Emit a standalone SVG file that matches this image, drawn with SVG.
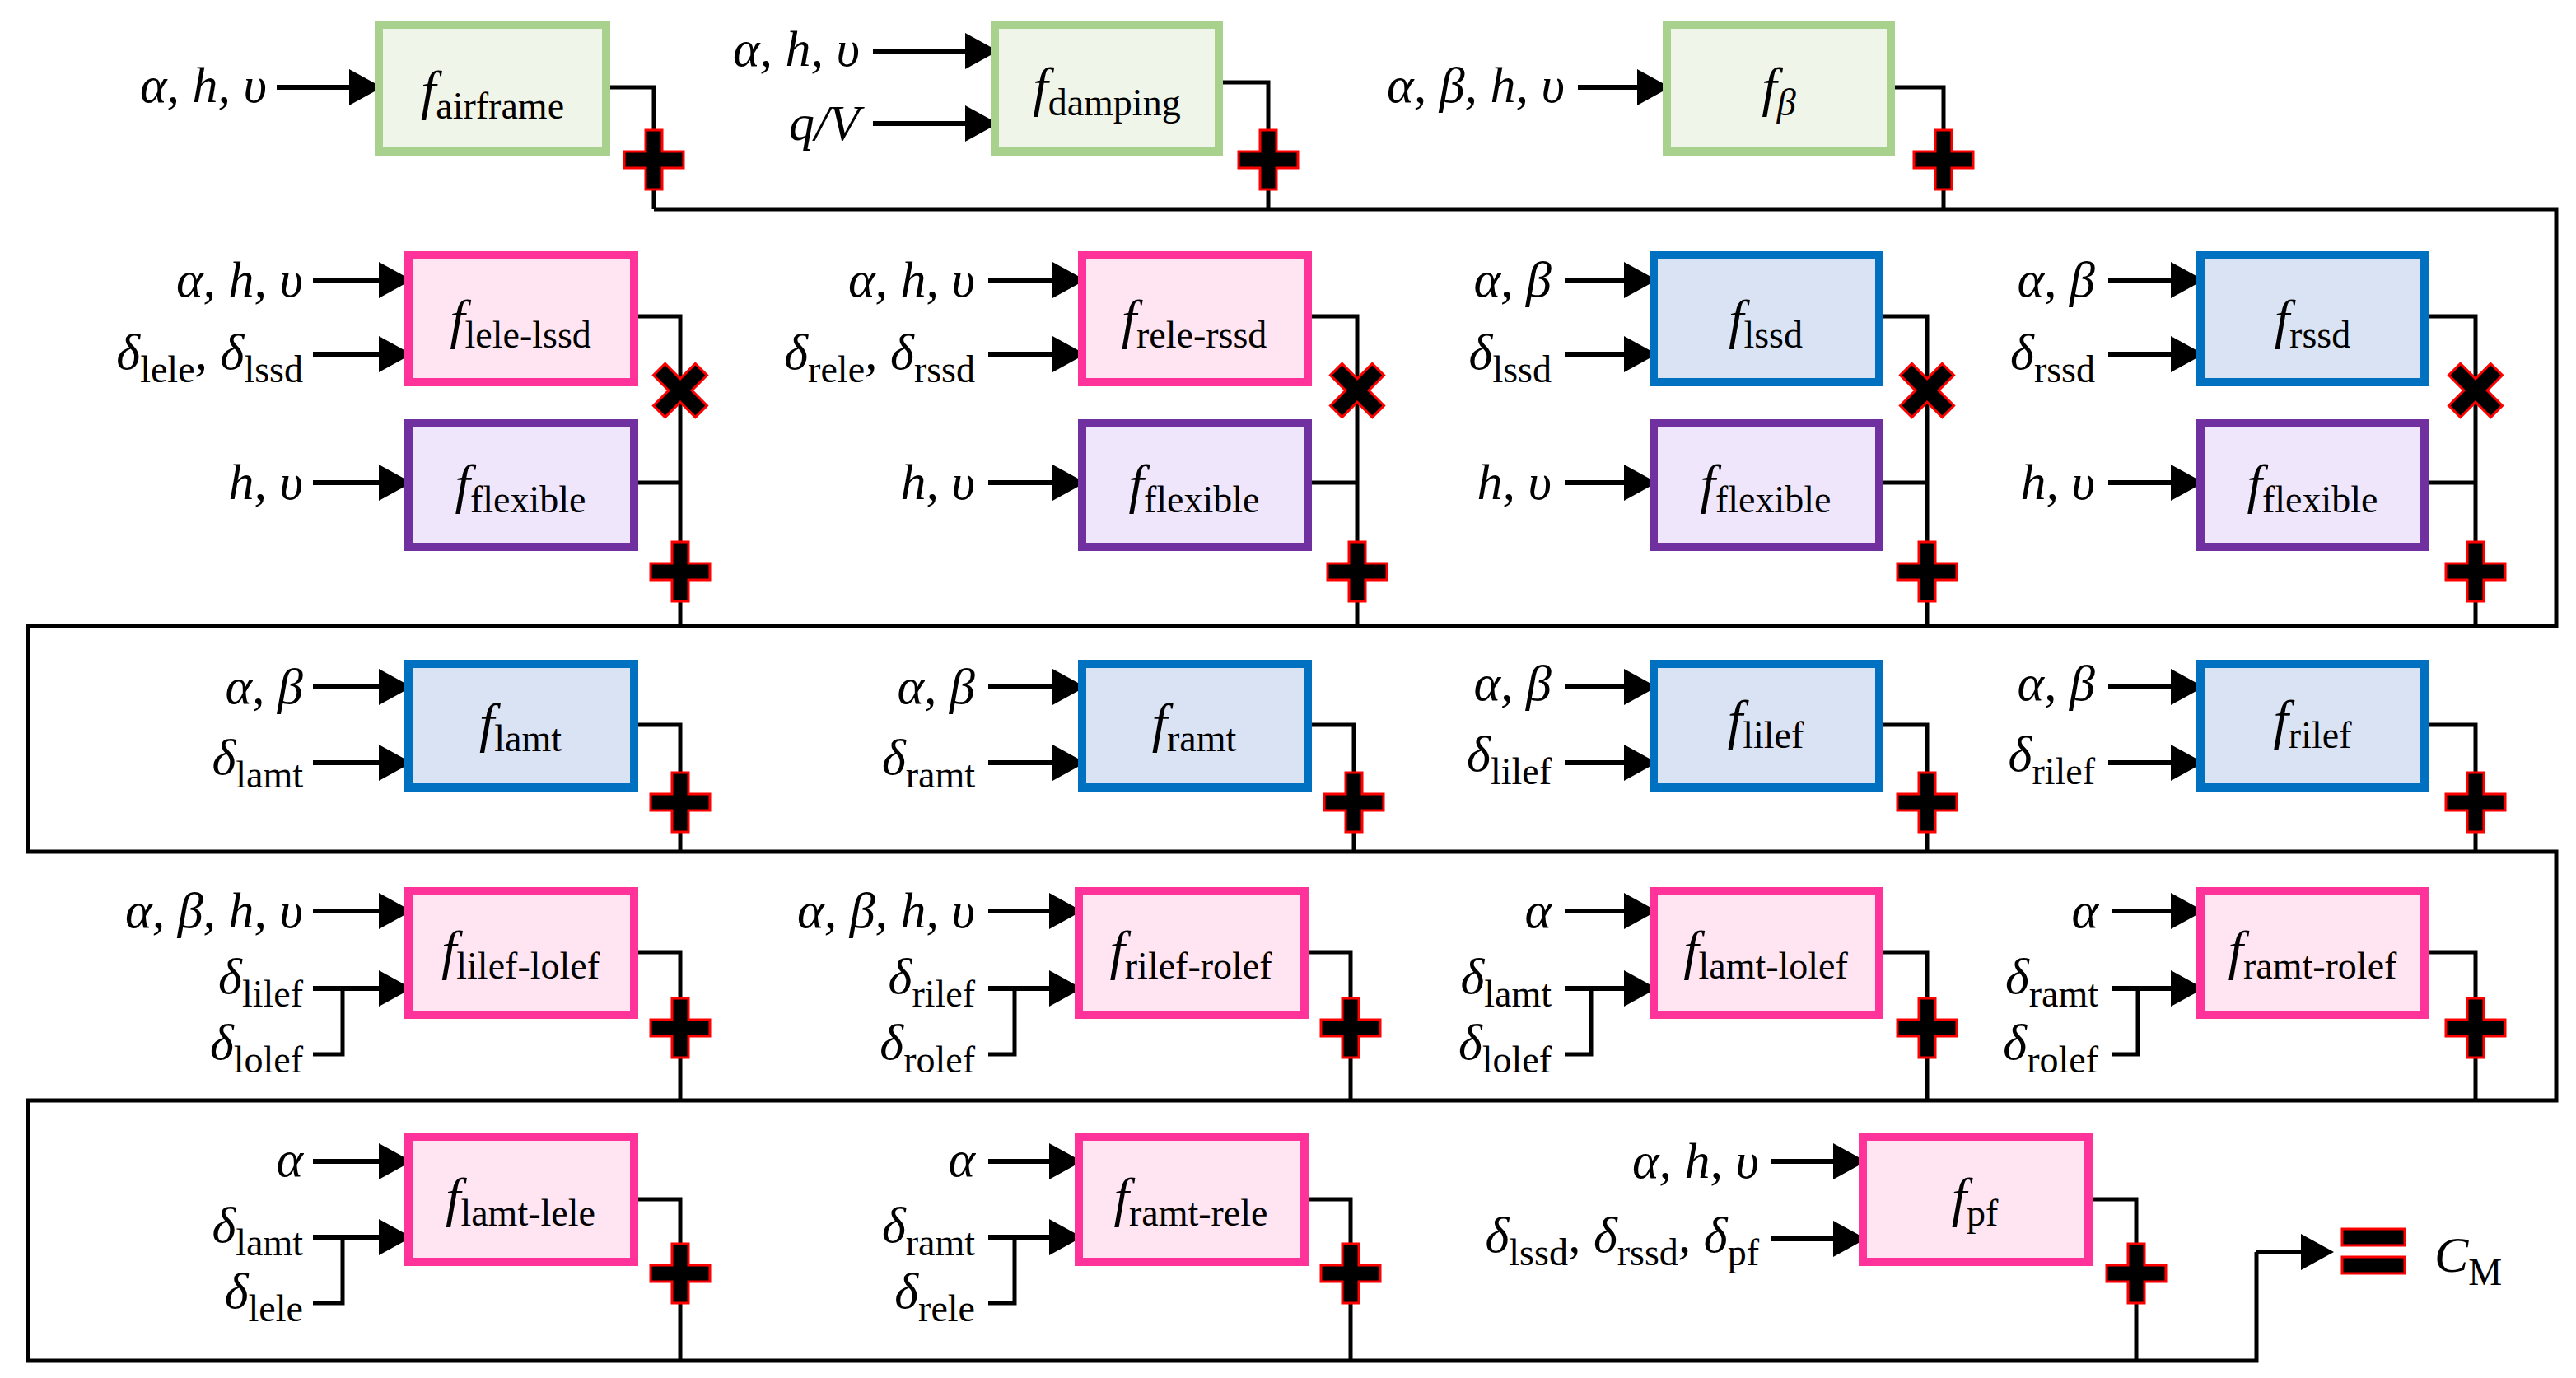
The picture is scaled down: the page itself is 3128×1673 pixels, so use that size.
<svg xmlns="http://www.w3.org/2000/svg" width="3128" height="1673" viewBox="0 0 3128 1673">
<style>
.g{fill:#F0F5EA;stroke:#A9D18E;stroke-width:5}
.p{fill:#FFE5F2;stroke:#FF3399;stroke-width:5}
.v{fill:#EFE6FC;stroke:#7030A0;stroke-width:5}
.b{fill:#DAE3F3;stroke:#0070C0;stroke-width:5}
.w{fill:none;stroke:#000;stroke-width:2.5}
.a{fill:none;stroke:#000;stroke-width:3;marker-end:url(#ar)}
text{font-family:"Liberation Serif","Times New Roman",serif;font-size:31px;fill:#000}
.l{text-anchor:end;font-style:italic}
.c{text-anchor:middle;font-style:italic;font-size:33px}
.s{font-style:normal;font-size:23px}
</style>
<defs>
<marker id="ar" markerUnits="userSpaceOnUse" markerWidth="20" markerHeight="22" refX="18" refY="11" orient="auto"><path d="M0,0 L20,11 L0,22 z" fill="#000"/></marker>
<path id="plus" d="M-5,-18 H5 V-5 H18 V5 H5 V18 H-5 V5 H-18 V-5 H-5 z" fill="#000" stroke="#F00" stroke-width="1.5"/>
<use id="times" href="#plus" transform="rotate(45)"/>
</defs>
<rect width="3128" height="1673" fill="#fff"/>
<g transform="scale(2)">
<g id="connectors">
<path class="a" d="M168,53 H230"/>
<path class="a" d="M530,31 H604"/><path class="a" d="M530,75 H604"/>
<path class="a" d="M958,53 H1012"/>
<path class="w" d="M368,53 H397 V127"/><path class="w" d="M740,50 H770 V127"/><path class="w" d="M1148,53 H1180 V127"/>
<path class="w" d="M397,127 H1552 V380 H17 V517 H1552 V668 H17 V826 H1370 V760"/>
<path class="a" d="M1370,760 H1415"/>
<!-- row2 -->
<path class="a" d="M190,170 H248"/><path class="a" d="M190,215 H248"/><path class="a" d="M190,293 H248"/>
<path class="w" d="M385,192 H413 V380 M385,293 H413"/>
<path class="a" d="M600,170 H657"/><path class="a" d="M600,215 H657"/><path class="a" d="M600,293 H657"/>
<path class="w" d="M794,192 H824 V380 M794,293 H824"/>
<path class="a" d="M950,170 H1004"/><path class="a" d="M950,215 H1004"/><path class="a" d="M950,293 H1004"/>
<path class="w" d="M1141,192 H1170 V380 M1141,293 H1170"/>
<path class="a" d="M1280,170 H1336"/><path class="a" d="M1280,215 H1336"/><path class="a" d="M1280,293 H1336"/>
<path class="w" d="M1472,192 H1503 V380 M1472,293 H1503"/>
<!-- row3 -->
<path class="a" d="M190,417 H248"/><path class="a" d="M190,463 H248"/><path class="w" d="M385,440 H413 V517"/>
<path class="a" d="M600,417 H657"/><path class="a" d="M600,463 H657"/><path class="w" d="M794,440 H822 V517"/>
<path class="a" d="M950,417 H1004"/><path class="a" d="M950,463 H1004"/><path class="w" d="M1141,440 H1170 V517"/>
<path class="a" d="M1280,417 H1336"/><path class="a" d="M1280,463 H1336"/><path class="w" d="M1472,440 H1503 V517"/>
<!-- row4 -->
<path class="a" d="M190,553 H248"/><path class="a" d="M190,600 H248"/><path class="w" d="M190,640 H208 V600"/><path class="w" d="M385,578 H413 V668"/>
<path class="a" d="M600,553 H655"/><path class="a" d="M600,600 H655"/><path class="w" d="M600,640 H616 V600"/><path class="w" d="M792,578 H820 V668"/>
<path class="a" d="M950,553 H1004"/><path class="a" d="M950,600 H1004"/><path class="w" d="M950,640 H966 V600"/><path class="w" d="M1141,578 H1170 V668"/>
<path class="a" d="M1282,553 H1336"/><path class="a" d="M1282,600 H1336"/><path class="w" d="M1282,640 H1298 V600"/><path class="w" d="M1472,578 H1503 V668"/>
<!-- row5 -->
<path class="a" d="M190,705 H248"/><path class="a" d="M190,751 H248"/><path class="w" d="M190,791 H208 V751"/><path class="w" d="M385,728 H413 V826"/>
<path class="a" d="M600,705 H655"/><path class="a" d="M600,751 H655"/><path class="w" d="M600,791 H616 V751"/><path class="w" d="M792,728 H820 V826"/>
<path class="a" d="M1075,705 H1131"/><path class="a" d="M1075,752 H1131"/><path class="w" d="M1268,728 H1297 V826"/>
<!-- operators -->
<use href="#plus" x="397" y="97"/><use href="#plus" x="770" y="97"/><use href="#plus" x="1180" y="97"/>
<use href="#times" transform="translate(413,237)"/><use href="#times" transform="translate(824,237)"/><use href="#times" transform="translate(1170,237)"/><use href="#times" transform="translate(1503,237)"/>
<use href="#plus" x="413" y="347"/><use href="#plus" x="824" y="347"/><use href="#plus" x="1170" y="347"/><use href="#plus" x="1503" y="347"/>
<use href="#plus" x="413" y="487"/><use href="#plus" x="822" y="487"/><use href="#plus" x="1170" y="487"/><use href="#plus" x="1503" y="487"/>
<use href="#plus" x="413" y="624"/><use href="#plus" x="820" y="624"/><use href="#plus" x="1170" y="624"/><use href="#plus" x="1503" y="624"/>
<use href="#plus" x="413" y="773"/><use href="#plus" x="820" y="773"/><use href="#plus" x="1297" y="773"/>
<rect x="1422" y="746" width="38" height="10" fill="#000" stroke="#F00" stroke-width="1.5"/>
<rect x="1422" y="763" width="38" height="10" fill="#000" stroke="#F00" stroke-width="1.5"/>
</g>
<!-- row1 nodes -->
<g id="n-airframe"><rect class="g" x="230" y="15" width="138" height="77"/><text class="c" x="299" y="66">f<tspan class="s" dy="6">airframe</tspan></text></g>
<g id="n-damping"><rect class="g" x="604" y="15" width="136" height="77"/><text class="c" x="672" y="64">f<tspan class="s" dy="6">damping</tspan></text></g>
<g id="n-beta"><rect class="g" x="1012" y="15" width="136" height="77"/><text class="c" x="1080" y="64">f<tspan dy="6" font-size="23">β</tspan></text></g>
<g id="labels">
<text class="l" x="162" y="62">α, h, υ</text>
<text class="l" x="522" y="40">α, h, υ</text>
<text class="l" x="522" y="85">q/V</text>
<text class="l" x="950" y="62">α, β, h, υ</text>
<text class="l" x="184" y="180">α, h, υ</text><text class="l" x="184" y="224">δ<tspan class="s" dy="8">lele</tspan><tspan dy="-8">, δ</tspan><tspan class="s" dy="8">lssd</tspan></text><text class="l" x="184" y="303">h, υ</text>
<text class="l" x="592" y="180">α, h, υ</text><text class="l" x="592" y="224">δ<tspan class="s" dy="8">rele</tspan><tspan dy="-8">, δ</tspan><tspan class="s" dy="8">rssd</tspan></text><text class="l" x="592" y="303">h, υ</text>
<text class="l" x="942" y="180">α, β</text><text class="l" x="942" y="224">δ<tspan class="s" dy="8">lssd</tspan></text><text class="l" x="942" y="303">h, υ</text>
<text class="l" x="1272" y="180">α, β</text><text class="l" x="1272" y="224">δ<tspan class="s" dy="8">rssd</tspan></text><text class="l" x="1272" y="303">h, υ</text>
<text class="l" x="184" y="427">α, β</text><text class="l" x="184" y="470">δ<tspan class="s" dy="8">lamt</tspan></text>
<text class="l" x="592" y="427">α, β</text><text class="l" x="592" y="470">δ<tspan class="s" dy="8">ramt</tspan></text>
<text class="l" x="942" y="425">α, β</text><text class="l" x="942" y="468">δ<tspan class="s" dy="8">lilef</tspan></text>
<text class="l" x="1272" y="425">α, β</text><text class="l" x="1272" y="468">δ<tspan class="s" dy="8">rilef</tspan></text>
<text class="l" x="184" y="563">α, β, h, υ</text><text class="l" x="184" y="603">δ<tspan class="s" dy="8">lilef</tspan></text><text class="l" x="184" y="643">δ<tspan class="s" dy="8">lolef</tspan></text>
<text class="l" x="592" y="563">α, β, h, υ</text><text class="l" x="592" y="603">δ<tspan class="s" dy="8">rilef</tspan></text><text class="l" x="592" y="643">δ<tspan class="s" dy="8">rolef</tspan></text>
<text class="l" x="942" y="563">α</text><text class="l" x="942" y="603">δ<tspan class="s" dy="8">lamt</tspan></text><text class="l" x="942" y="643">δ<tspan class="s" dy="8">lolef</tspan></text>
<text class="l" x="1274" y="563">α</text><text class="l" x="1274" y="603">δ<tspan class="s" dy="8">ramt</tspan></text><text class="l" x="1274" y="643">δ<tspan class="s" dy="8">rolef</tspan></text>
<text class="l" x="184" y="714">α</text><text class="l" x="184" y="754">δ<tspan class="s" dy="8">lamt</tspan></text><text class="l" x="184" y="794">δ<tspan class="s" dy="8">lele</tspan></text>
<text class="l" x="592" y="714">α</text><text class="l" x="592" y="754">δ<tspan class="s" dy="8">ramt</tspan></text><text class="l" x="592" y="794">δ<tspan class="s" dy="8">rele</tspan></text>
<text class="l" x="1068" y="715">α, h, υ</text><text class="l" x="1068" y="760">δ<tspan class="s" dy="8">lssd</tspan><tspan dy="-8">, δ</tspan><tspan class="s" dy="8">rssd</tspan><tspan dy="-8">, δ</tspan><tspan class="s" dy="8">pf</tspan></text>
<text x="1478" y="772" font-style="italic" font-size="34">C<tspan class="s" font-style="italic" dy="8">M</tspan></text>
</g>
<!-- row2 -->
<g id="n-lele-lssd"><rect class="p" x="248" y="155" width="137" height="77"/><text class="c" x="316" y="205">f<tspan class="s" dy="6">lele-lssd</tspan></text></g>
<g id="n-flex1"><rect class="v" x="248" y="257" width="137" height="75"/><text class="c" x="316" y="305">f<tspan class="s" dy="6">flexible</tspan></text></g>
<g id="n-rele-rssd"><rect class="p" x="657" y="155" width="137" height="77"/><text class="c" x="725" y="205">f<tspan class="s" dy="6">rele-rssd</tspan></text></g>
<g id="n-flex2"><rect class="v" x="657" y="257" width="137" height="75"/><text class="c" x="725" y="305">f<tspan class="s" dy="6">flexible</tspan></text></g>
<g id="n-lssd"><rect class="b" x="1004" y="155" width="137" height="77"/><text class="c" x="1072" y="205">f<tspan class="s" dy="6">lssd</tspan></text></g>
<g id="n-flex3"><rect class="v" x="1004" y="257" width="137" height="75"/><text class="c" x="1072" y="305">f<tspan class="s" dy="6">flexible</tspan></text></g>
<g id="n-rssd"><rect class="b" x="1336" y="155" width="136" height="77"/><text class="c" x="1404" y="205">f<tspan class="s" dy="6">rssd</tspan></text></g>
<g id="n-flex4"><rect class="v" x="1336" y="257" width="136" height="75"/><text class="c" x="1404" y="305">f<tspan class="s" dy="6">flexible</tspan></text></g>
<!-- row3 -->
<g id="n-lamt"><rect class="b" x="248" y="403" width="137" height="75"/><text class="c" x="316" y="450">f<tspan class="s" dy="6">lamt</tspan></text></g>
<g id="n-ramt"><rect class="b" x="657" y="403" width="137" height="75"/><text class="c" x="725" y="450">f<tspan class="s" dy="6">ramt</tspan></text></g>
<g id="n-lilef"><rect class="b" x="1004" y="403" width="137" height="75"/><text class="c" x="1072" y="448">f<tspan class="s" dy="6">lilef</tspan></text></g>
<g id="n-rilef"><rect class="b" x="1336" y="403" width="136" height="75"/><text class="c" x="1404" y="448">f<tspan class="s" dy="6">rilef</tspan></text></g>
<!-- row4 -->
<g id="n-lilef-lolef"><rect class="p" x="248" y="541" width="137" height="75"/><text class="c" x="316" y="588">f<tspan class="s" dy="6">lilef-lolef</tspan></text></g>
<g id="n-rilef-rolef"><rect class="p" x="655" y="541" width="137" height="75"/><text class="c" x="723" y="588">f<tspan class="s" dy="6">rilef-rolef</tspan></text></g>
<g id="n-lamt-lolef"><rect class="p" x="1004" y="541" width="137" height="75"/><text class="c" x="1072" y="588">f<tspan class="s" dy="6">lamt-lolef</tspan></text></g>
<g id="n-ramt-rolef"><rect class="p" x="1336" y="541" width="136" height="75"/><text class="c" x="1404" y="588">f<tspan class="s" dy="6">ramt-rolef</tspan></text></g>
<!-- row5 -->
<g id="n-lamt-lele"><rect class="p" x="248" y="690" width="137" height="76"/><text class="c" x="316" y="738">f<tspan class="s" dy="6">lamt-lele</tspan></text></g>
<g id="n-ramt-rele"><rect class="p" x="655" y="690" width="137" height="76"/><text class="c" x="723" y="738">f<tspan class="s" dy="6">ramt-rele</tspan></text></g>
<g id="n-pf"><rect class="p" x="1131" y="690" width="137" height="76"/><text class="c" x="1199" y="738">f<tspan class="s" dy="6">pf</tspan></text></g>
</g>
</svg>
